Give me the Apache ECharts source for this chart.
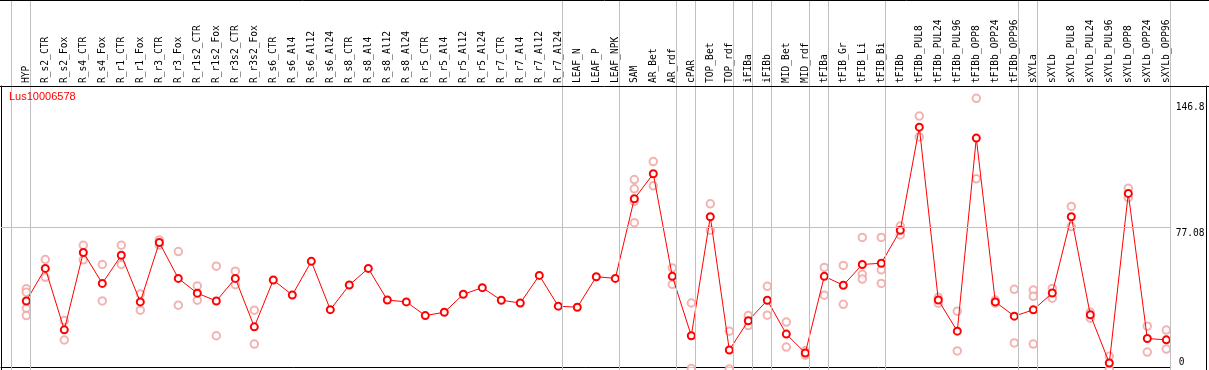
<!DOCTYPE html>
<html><head><meta charset="utf-8">
<script src="https://cdn.jsdelivr.net/npm/echarts@6/dist/echarts.min.js"></script>
<style>html,body{margin:0;padding:0;background:#fff}#c{width:1209px;height:370px}</style>
</head><body><div id="c"></div>
<script>
const chartTitle = 'Lus10006578';
const categories = ['HYP','R_s2_CTR','R_s2_Fox','R_s4_CTR','R_s4_Fox','R_r1_CTR','R_r1_Fox','R_r3_CTR','R_r3_Fox','R_r1s2_CTR','R_r1s2_Fox','R_r3s2_CTR','R_r3s2_Fox','R_s6_CTR','R_s6_Al4','R_s6_Al12','R_s6_Al24','R_s8_CTR','R_s8_Al4','R_s8_Al12','R_s8_Al24','R_r5_CTR','R_r5_Al4','R_r5_Al12','R_r5_Al24','R_r7_CTR','R_r7_Al4','R_r7_Al12','R_r7_Al24','LEAF_N','LEAF_P','LEAF_NPK','SAM','AR_Bet','AR_rdf','cPAR','TOP_Bet','TOP_rdf','iFIBa','iFIBb','MID_Bet','MID_rdf','tFIBa','tFIB_Gr','tFIB_Li','tFIB_Bi','tFIBb','tFIBb_PUL8','tFIBb_PUL24','tFIBb_PUL96','tFIBb_OPP8','tFIBb_OPP24','tFIBb_OPP96','sXYLa','sXYLb','sXYLb_PUL8','sXYLb_PUL24','sXYLb_PUL96','sXYLb_OPP8','sXYLb_OPP24','sXYLb_OPP96'];
const means = [37.3,54.9,21.7,63.5,46.8,62.0,36.8,68.9,49.5,41.5,37.3,49.5,23.3,48.6,40.5,58.7,32.6,45.9,54.9,37.8,36.8,29.4,31.2,40.9,44.5,37.7,36.2,51.1,34.5,33.9,50.4,49.5,92.5,106.0,50.6,18.5,82.8,10.8,26.6,37.7,19.4,9.2,50.6,45.8,57.0,57.7,75.5,131.2,37.8,21.0,125.3,36.8,29.1,32.5,41.6,82.8,29.8,3.8,95.4,17.0,16.3];
const replicates = [
  [43.9,42.0,33.4,29.4],[59.7,50.1],[26.7,16.2],[67.4,59.5],[57.0,37.3],[67.4,57.0],[41.1,32.3],[70.3,67.5],[64.0,35.0],[45.4,37.7],
  [56.1,18.5],[53.4,46.1],[32.3,14.0],[],[],[],[],[],[],[],
  [],[],[],[],[],[],[],[],[],[],
  [],[],[102.9,97.9,91.1,79.6],[112.6,99.5],[55.1,46.3],[36.2,0.8],[89.8,75.5],[21.0,0.6],[29.4,24.0],[45.2,29.6],
  [25.9,12.4],[10.4,8.0],[55.4,40.4],[56.5,35.5],[71.6,51.7,49.1],[71.6,54.1,46.8],[77.8,73.0],[137.2,125.9],[39.3,36.1],[31.8,10.3],
  [146.8,103.3],[37.8,36.1],[43.6,14.6],[43.2,39.8,14.0],[44.1,38.8],[88.4,77.5],[31.2,28.0],[7.4,0.3],[98.2,93.1],[23.7,9.7],
  [21.6,11.3]
];
const yLabelTicks = [77.08, 146.8];
const yZeroTick = [0];
const yGridLines = [77.08];
const groupEnds = [-1,0,28,31,34,35,37,38,39,41,42,45,52,53,60];

// ---- layout (pixels) ----
const X0 = 26.3, STEP = 19, GL = 1, GR = 1170.7, W = 1209;
const xMin = (GL - X0) / STEP, xMax = (GR - X0) / STEP;
const SEP = 0.22;
const Y_MAX = 153.44;
const mono = 'DejaVu Sans Mono';
const Y_TOP = Math.max(...yLabelTicks);

const sepLines = groupEnds.map(i => ({xAxis: i + SEP}));
const repData = [];
replicates.forEach((r, i) => r.forEach(v => repData.push([i, v])));
const meanData = means.map((v, i) => [i, v]);

const chart = echarts.init(document.getElementById('c'), null, {renderer: 'canvas'});
chart.setOption({
  animation: false,
  backgroundColor: '#fff',
  title: {text: chartTitle, left: 9, top: 91, padding: 0,
    textStyle: {color: '#ff0000', fontSize: 11, fontFamily: 'Liberation Sans', fontWeight: 'normal'}},
  grid: [
    {left: GL, right: W - GR, top: 86, bottom: -2.4},
    {left: GL, right: W - GR, top: 0, height: 86}
  ],
  xAxis: [
    {type: 'value', gridIndex: 0, position: 'top', min: xMin, max: xMax,
      axisLine: {show: true, lineStyle: {color: '#000', width: 1}}, axisTick: {show: false}, splitLine: {show: false},
      axisLabel: {customValues: categories.map((c, i) => i), formatter: v => categories[Math.round(v)] || '',
        rotate: 90, margin: 3, fontFamily: mono, fontSize: 9.6, color: '#000', showMinLabel: true, showMaxLabel: true, hideOverlap: false}},
    {type: 'value', gridIndex: 0, position: 'bottom', offset: -2.4, min: xMin, max: xMax,
      axisLine: {show: true, lineStyle: {color: '#000', width: 1}}, axisTick: {show: false}, axisLabel: {show: false}, splitLine: {show: false}},
    {type: 'value', gridIndex: 1, min: xMin, max: xMax, show: false}
  ],
  yAxis: [
    {type: 'value', gridIndex: 0, position: 'right', min: 0, max: Y_MAX,
      axisLine: {show: false}, axisTick: {show: false}, splitLine: {show: false},
      axisLabel: {customValues: yLabelTicks, verticalAlign: 'top', margin: 5,
        formatter: v => (v === Y_TOP ? '{t|' : '{m|') + v + '}',
        rich: {t: {padding: [4, 0, 0, 0], fontFamily: mono, fontSize: 9.6, color: '#000'},
               m: {padding: [1, 0, 0, 0], fontFamily: mono, fontSize: 9.6, color: '#000'}},
        fontFamily: mono, fontSize: 9.6, color: '#000', showMinLabel: true, showMaxLabel: true}},
    {type: 'value', gridIndex: 0, position: 'right', min: 0, max: Y_MAX,
      axisLine: {show: false}, axisTick: {show: false}, splitLine: {show: false},
      axisLabel: {customValues: yZeroTick, formatter: v => String(v), verticalAlign: 'bottom', margin: 8, padding: [0,0,3,0],
        fontFamily: mono, fontSize: 9.6, color: '#000', showMinLabel: true}},
    {type: 'value', gridIndex: 0, position: 'left', min: 0, max: Y_MAX,
      axisLine: {show: true, lineStyle: {color: '#000', width: 1}}, axisTick: {show: false}, axisLabel: {show: false}, splitLine: {show: false}},
    {type: 'value', gridIndex: 0, position: 'right', offset: 35.3, min: 0, max: Y_MAX,
      axisLine: {show: true, lineStyle: {color: '#000', width: 1}}, axisTick: {show: false}, axisLabel: {show: false}, splitLine: {show: false}},
    {type: 'value', gridIndex: 1, min: 0, max: 1, show: false}
  ],
  graphic: [
    {type: 'line', shape: {x1: 0, y1: 0.5, x2: W, y2: 0.5}, style: {stroke: '#000', lineWidth: 1}, z: 10},
    {type: 'line', shape: {x1: 0, y1: 86.5, x2: W, y2: 86.5}, style: {stroke: '#000', lineWidth: 1}, z: 10}
  ],
  series: [
    {type: 'line', xAxisIndex: 0, yAxisIndex: 0, data: [], z: 1, silent: true,
      markLine: {silent: true, symbol: ['none', 'none'], label: {show: false},
        lineStyle: {color: '#c0c0c0', width: 1, type: 'solid'},
        data: sepLines.concat(yGridLines.map(v => ({yAxis: v})))}},
    {type: 'line', xAxisIndex: 2, yAxisIndex: 4, data: [], z: 1, silent: true,
      markLine: {silent: true, symbol: ['none', 'none'], label: {show: false},
        lineStyle: {color: '#c0c0c0', width: 1, type: 'solid'}, data: sepLines}},
    {type: 'scatter', xAxisIndex: 0, yAxisIndex: 0, data: repData, z: 2, clip: false, silent: true,
      symbol: 'emptyCircle', symbolSize: 7.5,
      itemStyle: {color: '#f0a0a0', borderColor: '#f0a0a0', borderWidth: 1.2}},
    {type: 'line', xAxisIndex: 0, yAxisIndex: 0, data: meanData, z: 3, silent: true,
      symbol: 'emptyCircle', symbolSize: 7, showAllSymbol: true,
      lineStyle: {color: '#ff0000', width: 1},
      itemStyle: {color: '#ff0000', borderColor: '#ff0000', borderWidth: 1.5}}
  ]
});
</script></body></html>
